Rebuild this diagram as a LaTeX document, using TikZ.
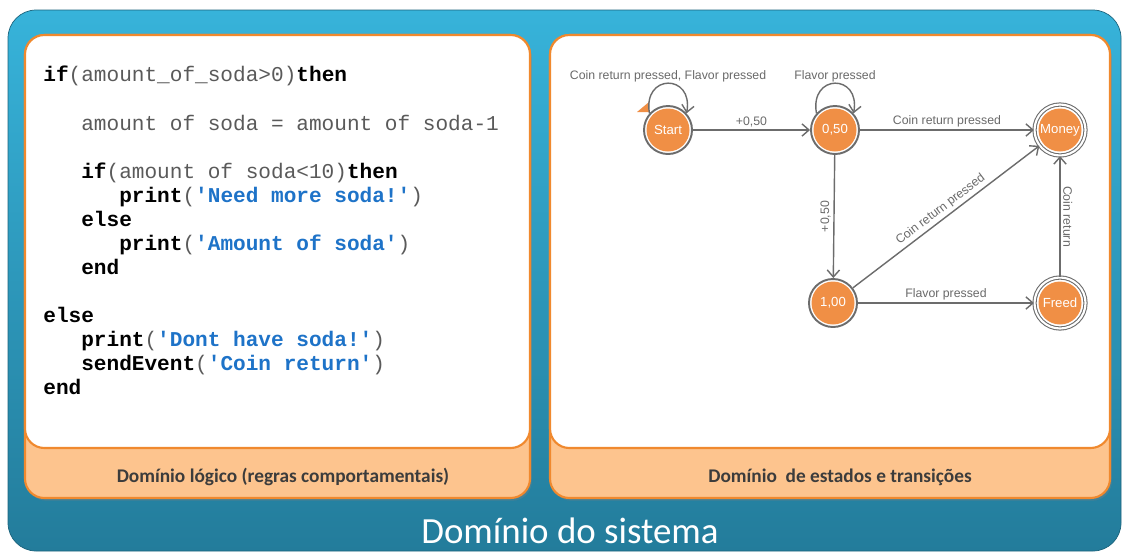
\documentclass[tikz,border=0pt]{standalone}
\usepackage{fontspec}
\setmainfont{Carlito}
\setsansfont{Liberation Sans}
\setmonofont{Liberation Mono}
\usetikzlibrary{arrows.meta,positioning,shadows}

\definecolor{skytop}{HTML}{37B3DA}
\definecolor{skybot}{HTML}{237C9B}
\definecolor{panelline}{HTML}{F0892E}
\definecolor{panelfill}{HTML}{FDC48E}
\definecolor{statefill}{HTML}{F08F45}
\definecolor{edgegray}{HTML}{6C6C6C}
\definecolor{labelgray}{HTML}{6A6A6A}
\definecolor{codegray}{HTML}{5A5A5A}
\definecolor{strblue}{HTML}{1E73C8}
\definecolor{captiongray}{HTML}{3C3C3C}

\newcommand{\codekw}[1]{\textcolor{black}{\textbf{#1}}}
\newcommand{\codestr}[1]{\textcolor{strblue}{\textbf{#1}}}
\newcommand{\tabin}{\hspace*{1.8em}}

\begin{document}
\begin{tikzpicture}[
        x=0.2mm, y=-0.2mm,
        panel/.style={draw=panelline, line width=1.2pt, rounded corners=11pt},
        code/.style={align=left, inner sep=0pt, text=codegray,
                font=\ttfamily\fontsize{12}{13.7}\selectfont},
        state/.style={circle, draw=edgegray, line width=1.1pt, fill=white,
                minimum size=9.6mm, inner sep=0pt, text=white,
                font=\sffamily\fontsize{7.5}{8}\selectfont,
                path picture={\fill[statefill] (path picture bounding box.center) circle (4.3mm);}},
        final/.style={state, double=white, double distance=1.2pt, line width=0.6pt, minimum size=10.2mm},
        edge/.style={draw=edgegray, line width=0.8pt, -{Straight Barb[length=4pt,width=7pt]}},
        lbl/.style={font=\sffamily\fontsize{7}{8}\selectfont, text=labelgray, inner sep=1.5pt},
        caption/.style={font=\bfseries\fontsize{11}{13}\selectfont, text=captiongray},
        bigtitle/.style={font=\fontsize{21}{24}\selectfont, text=white}
    ]
    \useasboundingbox (0,0) rectangle (1122,553);

    % fundo azul e os dois paineis
    \shade[top color=skytop, bottom color=skybot, rounded corners=16pt, draw=skybot!80!black] (8,10) rectangle (1121,551);
    \draw[panel, fill=panelfill, drop shadow={opacity=0.35, shadow xshift=1pt, shadow yshift=-1.5pt}] (25,35) rectangle (530,498);
    \draw[panel, fill=white] (25,35) rectangle (530,448);
    \draw[panel, fill=panelfill, drop shadow={opacity=0.35, shadow xshift=1pt, shadow yshift=-1.5pt}] (550,35) rectangle (1110,498);
    \draw[panel, fill=white] (550,35) rectangle (1110,448);

    % regras comportamentais
    \node[code, anchor=north west] (code) at (43,66) {%
        \codekw{if}(amount\_of\_soda>0)\codekw{then}\\
        \mbox{}\\
        \tabin amount of soda = amount of soda-1\\
        \mbox{}\\
        \tabin\codekw{if}(amount of soda<10)\codekw{then}\\
        \tabin\tabin\codekw{print}(\codestr{'Need more soda!'})\\
        \tabin\codekw{else}\\
        \tabin\tabin\codekw{print}(\codestr{'Amount of soda'})\\
        \tabin\codekw{end}\\
        \mbox{}\\
        \codekw{else}\\
        \tabin\codekw{print}(\codestr{'Dont have soda!'})\\
        \tabin\codekw{sendEvent}(\codestr{'Coin return'})\\
        \codekw{end}};

    % estados
    \node[state] (start) at (668,130) {Start};
    \node[state] (half) at (835,130) {0,50};
    \node[final] (money) at (1060,130) {Money};
    \node[state] (one) at (833,303) {1,00};
    \node[final] (freed) at (1060,303) {Freed};
    \fill[statefill] (637,112) -- (649,112) -- (649,102) -- cycle;

    % transicoes
    \draw[edge] (start.138) to[out=100, in=80, looseness=2.8] node[above, lbl, inner sep=0.5pt] {Coin return pressed, Flavor pressed} (start.42);
    \draw[edge] (half.138) to[out=100, in=80, looseness=2.8] node[above, lbl, inner sep=0.5pt] {Flavor pressed} (half.42);
    \draw[edge] (start) -- node[above, lbl] {+0,50} (half);
    \draw[edge] (half) -- node[above, lbl] {Coin return pressed} (money);
    \draw[edge] (half) -- node[lbl, rotate=90, anchor=south] {+0,50} (one);
    \draw[edge] (one) -- node[lbl, sloped, above] {Coin return pressed} (money);
    \draw[edge] (one) -- node[above, lbl] {Flavor pressed} (freed);
    \draw[edge] (freed) -- node[lbl, rotate=-90, anchor=south] {Coin return} (money);

    % legendas
    \node[caption] (logiccap) at (283,477) {Domínio lógico (regras comportamentais)};
    \node[caption] (statecap) at (840,477) {Domínio~ de estados e transições};
    \node[bigtitle] (systitle) at (570,531) {Domínio do sistema};

\end{tikzpicture}
\end{document}
